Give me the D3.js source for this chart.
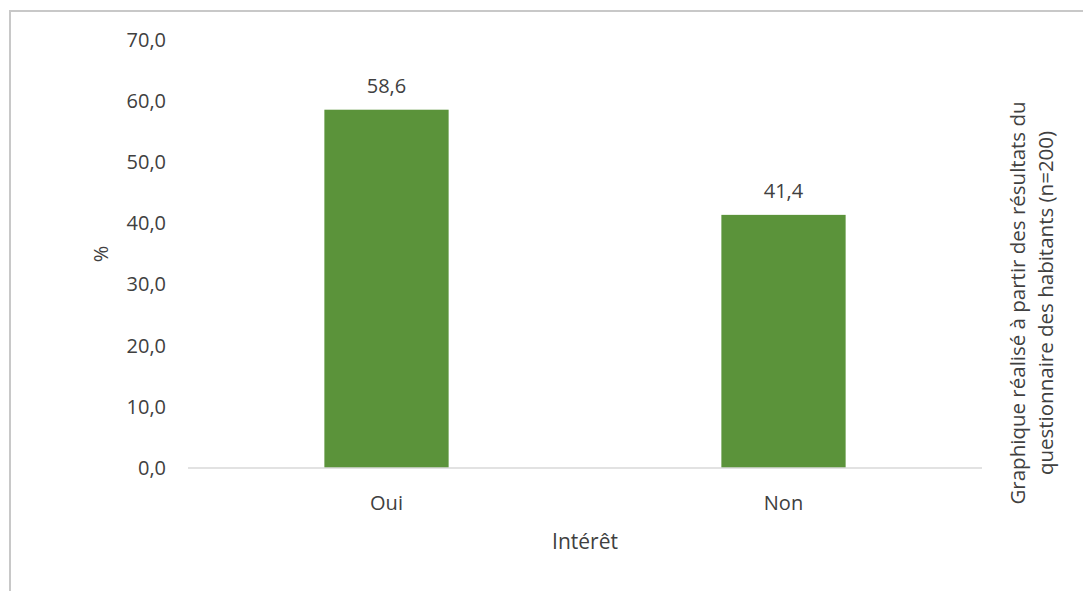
<!DOCTYPE html>
<html><head><meta charset="utf-8">
<script src="https://cdn.jsdelivr.net/npm/d3@7"></script>
<style>body{margin:0;background:#fff}text{font-family:"Open Sans",sans-serif;fill:#404040}</style>
</head><body>
<svg id="c" width="1083" height="591"></svg>
<script>
const categories = ["Oui", "Non"];
const values = [58.6, 41.4];
const yTicks = [0, 10, 20, 30, 40, 50, 60, 70];
const xTitle = "Intérêt";
const yTitle = "%";
const note = ["Graphique réalisé à partir des résultats du", "questionnaire des habitants (n=200)"];

const svg = d3.select("#c");
const fmt = v => d3.format(".1f")(v).replace(".", ",");

svg.append("rect").attr("x", 10).attr("y", 11).attr("width", 1100).attr("height", 620)
  .attr("fill", "none").attr("stroke", "#c8c8c8").attr("stroke-width", 2);

const x = d3.scaleBand().domain(categories).range([188, 982]).paddingInner(0.687).paddingOuter(0.3435);
const y = d3.scaleLinear().domain([0, 70]).range([468, 40]);

const yAxis = svg.append("g").attr("transform", "translate(188,0)")
  .call(d3.axisLeft(y).tickValues(yTicks).tickFormat(fmt).tickSize(0).tickPadding(22));
yAxis.select(".domain").remove();
yAxis.selectAll("text").style("font-size", "20px").attr("fill", "#404040");

svg.selectAll(".bar").data(values).enter().append("rect")
  .attr("x", (d, i) => x(categories[i])).attr("width", x.bandwidth())
  .attr("y", d => y(d)).attr("height", d => y(0) - y(d)).attr("fill", "#5b933a");

svg.append("line").attr("x1", 188).attr("x2", 982).attr("y1", y(0)).attr("y2", y(0))
  .attr("stroke", "#d9d9d9").attr("stroke-width", 1.5);

svg.selectAll(".lab").data(values).enter().append("text")
  .attr("x", (d, i) => x(categories[i]) + x.bandwidth() / 2).attr("y", d => y(d) - 17)
  .attr("text-anchor", "middle").style("font-size", "20px").text(fmt);

svg.selectAll(".cat").data(categories).enter().append("text")
  .attr("x", d => x(d) + x.bandwidth() / 2).attr("y", 510)
  .attr("text-anchor", "middle").style("font-size", "20px").text(d => d);

svg.append("text").attr("x", 585).attr("y", 549).attr("text-anchor", "middle")
  .style("font-size", "21px").text(xTitle);

svg.append("text").attr("transform", "translate(108,254) rotate(-90)")
  .attr("text-anchor", "middle").style("font-size", "20px").text(yTitle);

svg.selectAll(".note").data(note).enter().append("text")
  .attr("transform", (d, i) => `translate(${1025 + i * 28},303) rotate(-90)`)
  .attr("text-anchor", "middle").style("font-size", "20.5px").text(d => d);
</script>
</body></html>
